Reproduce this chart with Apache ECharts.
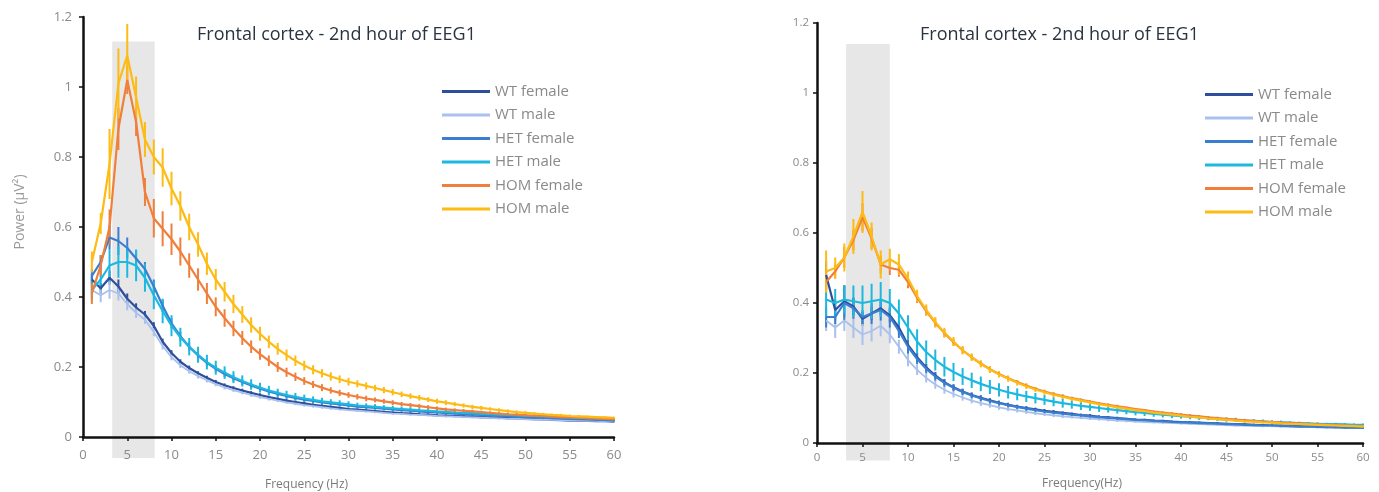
<!DOCTYPE html>
<html>
<head>
<meta charset="utf-8">
<script src="https://cdn.jsdelivr.net/npm/echarts@6/dist/echarts.min.js"></script>
<style>
  html, body { margin: 0; padding: 0; background: #fff; }
  #main { width: 1379px; height: 492px; }
</style>
</head>
<body>
<div id="main"></div>
<script>
// frequencies (Hz)
const hz = [
  1, 2, 3, 4, 5, 6, 7, 8, 9, 10, 11, 12, 13, 14, 15, 16, 17, 18, 19, 20,
  21, 22, 23, 24, 25, 26, 27, 28, 29, 30, 31, 32, 33, 34, 35, 36, 37, 38, 39, 40,
  41, 42, 43, 44, 45, 46, 47, 48, 49, 50, 51, 52, 53, 54, 55, 56, 57, 58, 59, 60
];
const groupNames = ['WT female', 'WT male', 'HET female', 'HET male', 'HOM female', 'HOM male'];
const xTicks = [0, 60, 5];
const yTicks = [0, 1.2, 0.2];

// shaded frequency band [from, to] and its vertical span
const bandLeft = [3.3, 8.1];
const bandLeftY = [-0.06, 1.13];
const bandRight = [3.2, 8.0];
const bandRightY = [-0.05, 1.14];

// ---- left panel: mean power ----
const L_wtF = [
  0.45, 0.425, 0.455, 0.43, 0.395, 0.37, 0.35, 0.318, 0.272, 0.24,
  0.215, 0.197, 0.182, 0.169, 0.157, 0.148, 0.14, 0.133, 0.126, 0.12,
  0.114, 0.109, 0.104, 0.1, 0.096, 0.092, 0.089, 0.086, 0.083, 0.08,
  0.078, 0.076, 0.074, 0.072, 0.07, 0.068, 0.067, 0.065, 0.064, 0.062,
  0.061, 0.06, 0.059, 0.058, 0.057, 0.056, 0.055, 0.054, 0.053, 0.052,
  0.051, 0.05, 0.049, 0.048, 0.047, 0.047, 0.046, 0.045, 0.045, 0.044
];
const L_wtM = [
  0.42, 0.405, 0.42, 0.41, 0.38, 0.355, 0.335, 0.3, 0.26, 0.228,
  0.205, 0.188, 0.174, 0.162, 0.151, 0.142, 0.134, 0.127, 0.12, 0.114,
  0.109, 0.104, 0.099, 0.095, 0.091, 0.088, 0.085, 0.082, 0.079, 0.077,
  0.075, 0.073, 0.071, 0.069, 0.067, 0.066, 0.064, 0.063, 0.062, 0.06,
  0.059, 0.058, 0.057, 0.056, 0.055, 0.054, 0.053, 0.052, 0.052, 0.051,
  0.05, 0.049, 0.049, 0.048, 0.047, 0.047, 0.046, 0.046, 0.045, 0.045
];
const L_hetF = [
  0.46, 0.5, 0.57, 0.56, 0.54, 0.51, 0.48, 0.43, 0.375, 0.325,
  0.288, 0.258, 0.233, 0.212, 0.195, 0.18, 0.168, 0.157, 0.147, 0.138,
  0.13, 0.123, 0.117, 0.112, 0.107, 0.103, 0.099, 0.096, 0.093, 0.09,
  0.087, 0.085, 0.083, 0.081, 0.079, 0.077, 0.075, 0.073, 0.071, 0.07,
  0.068, 0.067, 0.065, 0.064, 0.063, 0.061, 0.06, 0.059, 0.058, 0.057,
  0.056, 0.055, 0.054, 0.053, 0.052, 0.051, 0.05, 0.049, 0.048, 0.047
];
const L_hetM = [
  0.42, 0.45, 0.49, 0.5, 0.5, 0.49, 0.455, 0.405, 0.36, 0.318,
  0.285, 0.258, 0.235, 0.214, 0.198, 0.184, 0.171, 0.16, 0.15, 0.141,
  0.133, 0.126, 0.12, 0.115, 0.11, 0.106, 0.102, 0.099, 0.096, 0.093,
  0.09, 0.088, 0.086, 0.084, 0.082, 0.08, 0.078, 0.076, 0.075, 0.073,
  0.072, 0.07, 0.069, 0.068, 0.066, 0.065, 0.064, 0.063, 0.062, 0.061,
  0.06, 0.059, 0.058, 0.057, 0.056, 0.055, 0.054, 0.053, 0.052, 0.051
];
const L_homF = [
  0.41, 0.49, 0.6, 0.88, 1.02, 0.9, 0.7, 0.625, 0.595, 0.565,
  0.53, 0.49, 0.45, 0.41, 0.372, 0.34, 0.31, 0.283, 0.258, 0.237,
  0.218, 0.2, 0.185, 0.172, 0.16, 0.15, 0.141, 0.133, 0.126, 0.12,
  0.115, 0.11, 0.106, 0.102, 0.098, 0.094, 0.091, 0.088, 0.085, 0.082,
  0.079, 0.077, 0.075, 0.073, 0.071, 0.069, 0.067, 0.065, 0.064, 0.062,
  0.061, 0.06, 0.058, 0.057, 0.056, 0.055, 0.054, 0.053, 0.052, 0.051
];
const L_homM = [
  0.5, 0.61, 0.78, 1.01, 1.09, 0.97, 0.85, 0.8, 0.77, 0.71,
  0.66, 0.6, 0.55, 0.495, 0.45, 0.415, 0.38, 0.35, 0.32, 0.295,
  0.272, 0.252, 0.234, 0.218, 0.204, 0.192, 0.182, 0.173, 0.165, 0.158,
  0.152, 0.146, 0.14, 0.134, 0.128, 0.122, 0.117, 0.112, 0.107, 0.102,
  0.098, 0.094, 0.09, 0.086, 0.083, 0.08, 0.077, 0.074, 0.071, 0.069,
  0.067, 0.065, 0.063, 0.062, 0.06, 0.059, 0.058, 0.057, 0.056, 0.055
];

// ---- left panel: standard errors ----
const L_wtF_se = [
  0.015, 0.015, 0.02, 0.02, 0.015, 0.012, 0.01, 0.01, 0.009, 0.008,
  0.007, 0.007, 0.006, 0.006, 0.006, 0.005, 0.005, 0.005, 0.005, 0.005,
  0.004, 0.004, 0.004, 0.004, 0.004, 0.004, 0.004, 0.003, 0.003, 0.003,
  0.003, 0.003, 0.003, 0.003, 0.003, 0.003, 0.003, 0.003, 0.003, 0.003,
  0.003, 0.003, 0.003, 0.003, 0.003, 0.002, 0.002, 0.002, 0.002, 0.002,
  0.002, 0.002, 0.002, 0.002, 0.002, 0.002, 0.002, 0.002, 0.002, 0.002
];
const L_wtM_se = [
  0.02, 0.02, 0.025, 0.02, 0.018, 0.015, 0.012, 0.012, 0.01, 0.009,
  0.008, 0.007, 0.007, 0.006, 0.006, 0.006, 0.005, 0.005, 0.005, 0.005,
  0.005, 0.004, 0.004, 0.004, 0.004, 0.004, 0.004, 0.004, 0.003, 0.003,
  0.003, 0.003, 0.003, 0.003, 0.003, 0.003, 0.003, 0.003, 0.003, 0.003,
  0.003, 0.003, 0.003, 0.003, 0.003, 0.003, 0.003, 0.003, 0.003, 0.003,
  0.002, 0.002, 0.002, 0.002, 0.002, 0.002, 0.002, 0.002, 0.002, 0.002
];
const L_hetF_se = [
  0.02, 0.02, 0.035, 0.04, 0.03, 0.025, 0.02, 0.02, 0.018, 0.015,
  0.013, 0.012, 0.011, 0.01, 0.01, 0.009, 0.009, 0.008, 0.008, 0.007,
  0.007, 0.007, 0.006, 0.006, 0.006, 0.006, 0.005, 0.005, 0.005, 0.005,
  0.005, 0.005, 0.004, 0.004, 0.004, 0.004, 0.004, 0.004, 0.004, 0.004,
  0.003, 0.003, 0.003, 0.003, 0.003, 0.003, 0.003, 0.003, 0.003, 0.003,
  0.003, 0.003, 0.003, 0.003, 0.003, 0.003, 0.003, 0.003, 0.003, 0.003
];
const L_hetM_se = [
  0.03, 0.03, 0.045, 0.045, 0.045, 0.045, 0.04, 0.04, 0.035, 0.03,
  0.027, 0.025, 0.023, 0.021, 0.02, 0.018, 0.017, 0.016, 0.015, 0.014,
  0.013, 0.012, 0.012, 0.011, 0.011, 0.01, 0.01, 0.009, 0.009, 0.009,
  0.008, 0.008, 0.008, 0.007, 0.007, 0.007, 0.007, 0.006, 0.006, 0.006,
  0.006, 0.005, 0.005, 0.005, 0.005, 0.005, 0.004, 0.004, 0.004, 0.004,
  0.004, 0.004, 0.003, 0.003, 0.003, 0.003, 0.003, 0.003, 0.003, 0.003
];
const L_homF_se = [
  0.03, 0.03, 0.05, 0.06, 0.04, 0.04, 0.04, 0.055, 0.05, 0.045,
  0.04, 0.035, 0.032, 0.03, 0.027, 0.025, 0.022, 0.02, 0.018, 0.016,
  0.015, 0.014, 0.013, 0.012, 0.011, 0.01, 0.01, 0.009, 0.009, 0.008,
  0.008, 0.008, 0.007, 0.007, 0.007, 0.006, 0.006, 0.006, 0.006, 0.005,
  0.005, 0.005, 0.005, 0.005, 0.004, 0.004, 0.004, 0.004, 0.004, 0.004,
  0.003, 0.003, 0.003, 0.003, 0.003, 0.003, 0.003, 0.003, 0.003, 0.003
];
const L_homM_se = [
  0.03, 0.03, 0.1, 0.1, 0.09, 0.06, 0.05, 0.05, 0.055, 0.048,
  0.042, 0.038, 0.035, 0.032, 0.03, 0.028, 0.026, 0.024, 0.022, 0.02,
  0.018, 0.017, 0.016, 0.015, 0.014, 0.013, 0.012, 0.012, 0.011, 0.011,
  0.01, 0.01, 0.009, 0.009, 0.009, 0.008, 0.008, 0.008, 0.007, 0.007,
  0.007, 0.006, 0.006, 0.006, 0.006, 0.005, 0.005, 0.005, 0.005, 0.005,
  0.004, 0.004, 0.004, 0.004, 0.004, 0.004, 0.003, 0.003, 0.003, 0.003
];

// ---- right panel: mean power ----
const R_wtF = [
  0.48, 0.38, 0.405, 0.39, 0.355, 0.37, 0.385, 0.365, 0.33, 0.28,
  0.245, 0.216, 0.193, 0.174, 0.159, 0.147, 0.137, 0.129, 0.122, 0.115,
  0.109, 0.104, 0.1, 0.096, 0.092, 0.089, 0.086, 0.083, 0.08, 0.078,
  0.075, 0.073, 0.071, 0.069, 0.067, 0.066, 0.064, 0.063, 0.061, 0.06,
  0.059, 0.058, 0.057, 0.056, 0.055, 0.054, 0.053, 0.052, 0.051, 0.05,
  0.05, 0.049, 0.048, 0.047, 0.047, 0.046, 0.045, 0.045, 0.044, 0.044
];
const R_wtM = [
  0.35, 0.33, 0.35, 0.33, 0.31, 0.32, 0.335, 0.31, 0.275, 0.237,
  0.209, 0.186, 0.167, 0.152, 0.14, 0.13, 0.121, 0.114, 0.108, 0.102,
  0.097, 0.093, 0.089, 0.085, 0.082, 0.079, 0.076, 0.074, 0.072, 0.07,
  0.068, 0.066, 0.064, 0.063, 0.061, 0.06, 0.059, 0.058, 0.057, 0.056,
  0.055, 0.054, 0.053, 0.052, 0.051, 0.05, 0.05, 0.049, 0.048, 0.048,
  0.047, 0.047, 0.046, 0.046, 0.045, 0.045, 0.044, 0.044, 0.043, 0.043
];
const R_hetF = [
  0.36, 0.36, 0.4, 0.385, 0.36, 0.37, 0.38, 0.36, 0.32, 0.275,
  0.24, 0.212, 0.19, 0.172, 0.158, 0.146, 0.136, 0.128, 0.12, 0.114,
  0.108, 0.103, 0.098, 0.094, 0.09, 0.087, 0.084, 0.081, 0.079, 0.076,
  0.074, 0.072, 0.07, 0.068, 0.066, 0.065, 0.063, 0.062, 0.06, 0.059,
  0.058, 0.057, 0.056, 0.055, 0.054, 0.053, 0.052, 0.051, 0.05, 0.05,
  0.049, 0.048, 0.047, 0.047, 0.046, 0.045, 0.045, 0.044, 0.044, 0.043
];
const R_hetM = [
  0.41, 0.4, 0.41, 0.405, 0.4, 0.405, 0.41, 0.4, 0.37, 0.33,
  0.29, 0.26, 0.237, 0.218, 0.203, 0.19, 0.179, 0.169, 0.16, 0.152,
  0.145, 0.139, 0.133, 0.128, 0.123, 0.118, 0.114, 0.11, 0.106, 0.103,
  0.1, 0.097, 0.094, 0.091, 0.088, 0.086, 0.083, 0.081, 0.079, 0.077,
  0.075, 0.073, 0.071, 0.069, 0.067, 0.066, 0.064, 0.063, 0.062, 0.06,
  0.059, 0.058, 0.057, 0.056, 0.055, 0.054, 0.054, 0.053, 0.052, 0.052
];
const R_homF = [
  0.46, 0.49, 0.53, 0.58, 0.645, 0.585, 0.51, 0.5, 0.495, 0.46,
  0.415, 0.377, 0.343, 0.314, 0.288, 0.265, 0.245, 0.227, 0.211, 0.197,
  0.185, 0.174, 0.164, 0.155, 0.147, 0.14, 0.134, 0.128, 0.123, 0.118,
  0.113, 0.109, 0.105, 0.101, 0.097, 0.094, 0.09, 0.087, 0.084, 0.081,
  0.078, 0.076, 0.073, 0.071, 0.069, 0.067, 0.065, 0.063, 0.061, 0.06,
  0.058, 0.057, 0.056, 0.054, 0.053, 0.052, 0.051, 0.05, 0.049, 0.048
];
const R_homM = [
  0.49, 0.5, 0.53, 0.59, 0.66, 0.59, 0.51, 0.525, 0.51, 0.47,
  0.42, 0.38, 0.345, 0.315, 0.29, 0.265, 0.245, 0.226, 0.21, 0.196,
  0.184, 0.172, 0.162, 0.153, 0.145, 0.138, 0.132, 0.126, 0.121, 0.116,
  0.111, 0.107, 0.102, 0.098, 0.094, 0.091, 0.087, 0.084, 0.081, 0.078,
  0.075, 0.073, 0.07, 0.068, 0.066, 0.064, 0.062, 0.061, 0.059, 0.058,
  0.056, 0.055, 0.054, 0.053, 0.052, 0.051, 0.05, 0.049, 0.048, 0.047
];

// ---- right panel: standard errors ----
const R_wtF_se = [
  0.04, 0.03, 0.045, 0.025, 0.02, 0.02, 0.02, 0.02, 0.018, 0.015,
  0.012, 0.011, 0.01, 0.009, 0.008, 0.008, 0.007, 0.007, 0.006, 0.006,
  0.006, 0.005, 0.005, 0.005, 0.005, 0.005, 0.004, 0.004, 0.004, 0.004,
  0.004, 0.004, 0.004, 0.003, 0.003, 0.003, 0.003, 0.003, 0.003, 0.003,
  0.003, 0.003, 0.003, 0.003, 0.003, 0.003, 0.003, 0.003, 0.003, 0.003,
  0.002, 0.002, 0.002, 0.002, 0.002, 0.002, 0.002, 0.002, 0.002, 0.002
];
const R_wtM_se = [
  0.03, 0.03, 0.03, 0.03, 0.03, 0.03, 0.03, 0.025, 0.02, 0.018,
  0.015, 0.013, 0.012, 0.011, 0.01, 0.009, 0.008, 0.008, 0.007, 0.007,
  0.006, 0.006, 0.006, 0.005, 0.005, 0.005, 0.005, 0.004, 0.004, 0.004,
  0.004, 0.004, 0.004, 0.004, 0.003, 0.003, 0.003, 0.003, 0.003, 0.003,
  0.003, 0.003, 0.003, 0.003, 0.003, 0.003, 0.003, 0.003, 0.003, 0.003,
  0.003, 0.003, 0.003, 0.003, 0.003, 0.003, 0.003, 0.003, 0.003, 0.003
];
const R_hetF_se = [
  0.03, 0.02, 0.05, 0.03, 0.02, 0.03, 0.03, 0.03, 0.02, 0.02,
  0.015, 0.013, 0.012, 0.011, 0.01, 0.009, 0.008, 0.008, 0.007, 0.007,
  0.006, 0.006, 0.006, 0.005, 0.005, 0.005, 0.005, 0.004, 0.004, 0.004,
  0.004, 0.004, 0.004, 0.003, 0.003, 0.003, 0.003, 0.003, 0.003, 0.003,
  0.003, 0.003, 0.003, 0.003, 0.003, 0.003, 0.003, 0.003, 0.003, 0.003,
  0.003, 0.003, 0.003, 0.003, 0.003, 0.003, 0.003, 0.003, 0.003, 0.003
];
const R_hetM_se = [
  0.05, 0.04, 0.04, 0.045, 0.05, 0.05, 0.05, 0.04, 0.04, 0.035,
  0.035, 0.033, 0.03, 0.028, 0.026, 0.024, 0.022, 0.021, 0.02, 0.019,
  0.018, 0.017, 0.016, 0.015, 0.014, 0.013, 0.013, 0.012, 0.012, 0.011,
  0.011, 0.01, 0.01, 0.009, 0.009, 0.009, 0.008, 0.008, 0.008, 0.007,
  0.007, 0.007, 0.006, 0.006, 0.006, 0.006, 0.005, 0.005, 0.005, 0.005,
  0.005, 0.004, 0.004, 0.004, 0.004, 0.004, 0.004, 0.004, 0.004, 0.004
];
const R_homF_se = [
  0.03, 0.02, 0.03, 0.03, 0.04, 0.03, 0.025, 0.02, 0.02, 0.018,
  0.015, 0.013, 0.012, 0.011, 0.01, 0.009, 0.008, 0.008, 0.007, 0.007,
  0.006, 0.006, 0.006, 0.005, 0.005, 0.005, 0.005, 0.004, 0.004, 0.004,
  0.004, 0.004, 0.004, 0.003, 0.003, 0.003, 0.003, 0.003, 0.003, 0.003,
  0.003, 0.003, 0.003, 0.003, 0.003, 0.003, 0.003, 0.003, 0.003, 0.003,
  0.003, 0.003, 0.003, 0.003, 0.003, 0.003, 0.003, 0.003, 0.003, 0.003
];
const R_homM_se = [
  0.06, 0.03, 0.04, 0.05, 0.06, 0.04, 0.04, 0.03, 0.03, 0.02,
  0.018, 0.016, 0.015, 0.014, 0.013, 0.012, 0.011, 0.01, 0.01, 0.009,
  0.009, 0.008, 0.008, 0.007, 0.007, 0.007, 0.006, 0.006, 0.006, 0.006,
  0.005, 0.005, 0.005, 0.005, 0.005, 0.004, 0.004, 0.004, 0.004, 0.004,
  0.004, 0.004, 0.003, 0.003, 0.003, 0.003, 0.003, 0.003, 0.003, 0.003,
  0.003, 0.003, 0.003, 0.003, 0.003, 0.003, 0.003, 0.003, 0.003, 0.003
];

const colors = ['#2e4f9c', '#a9c1ec', '#3a7fcf', '#1db8e0', '#f07f3c', '#fdbb14'];
const font = 'Open Sans';

const chart = echarts.init(document.getElementById('main'));

function errorBar(params, api) {
  const x = api.value(0);
  const lo = api.coord([x, api.value(1)]);
  const hi = api.coord([x, api.value(2)]);
  return {
    type: 'line',
    shape: { x1: lo[0], y1: lo[1], x2: hi[0], y2: hi[1] },
    style: { stroke: api.visual('color'), lineWidth: 2 }
  };
}

function bandRect(params, api) {
  const p1 = api.coord([api.value(0), api.value(3)]);
  const p2 = api.coord([api.value(1), api.value(2)]);
  return {
    type: 'rect',
    shape: { x: p1[0], y: p1[1], width: p2[0] - p1[0], height: p2[1] - p1[1] },
    style: { fill: '#e7e7e7' }
  };
}

const series = [];
function addPanel(idx, band, bandY, means, errs) {
  series.push({
    type: 'custom', xAxisIndex: idx, yAxisIndex: idx, silent: true, z: 1,
    renderItem: bandRect,
    encode: { x: [0, 1], y: [2, 3] },
    data: [[band[0], band[1], bandY[0], bandY[1]]]
  });
  groupNames.forEach((name, g) => {
    const m = means[g], e = errs[g];
    series.push({
      name: name, type: 'custom', xAxisIndex: idx, yAxisIndex: idx, silent: true, z: 2,
      itemStyle: { color: colors[g] },
      renderItem: errorBar,
      encode: { x: 0, y: [1, 2] },
      data: hz.map((f, i) => [f, m[i] - e[i], m[i] + e[i]])
    });
    series.push({
      name: name, type: 'line', xAxisIndex: idx, yAxisIndex: idx, z: 2,
      symbol: 'none', silent: true,
      lineStyle: { color: colors[g], width: g === 1 ? 1.8 : 2.2 },
      itemStyle: { color: colors[g] },
      data: hz.map((f, i) => [f, m[i]])
    });
  });
}
addPanel(0, bandLeft, bandLeftY,
  [L_wtF, L_wtM, L_hetF, L_hetM, L_homF, L_homM],
  [L_wtF_se, L_wtM_se, L_hetF_se, L_hetM_se, L_homF_se, L_homM_se]);
addPanel(1, bandRight, bandRightY,
  [R_wtF, R_wtM, R_hetF, R_hetM, R_homF, R_homM],
  [R_wtF_se, R_wtM_se, R_hetF_se, R_hetM_se, R_homF_se, R_homM_se]);

function xAxis(idx, size, margin) {
  return {
    type: 'value', gridIndex: idx, min: xTicks[0], max: xTicks[1], interval: xTicks[2], z: 5,
    axisLine: { show: true, onZero: false, lineStyle: { color: '#111', width: 2.5 } },
    axisTick: { show: true, length: 4, lineStyle: { color: '#111', width: 1.5 } },
    axisLabel: { color: '#8a8a8a', fontSize: size, margin: margin, fontFamily: font },
    splitLine: { show: false }
  };
}
function yAxis(idx, size, margin) {
  return {
    type: 'value', gridIndex: idx, min: yTicks[0], max: yTicks[1], interval: yTicks[2], z: 5,
    axisLine: { show: true, lineStyle: { color: '#111', width: 2.5 } },
    axisTick: { show: true, length: 4, lineStyle: { color: '#111', width: 1.5 } },
    axisLabel: { color: '#8a8a8a', fontSize: size, margin: margin, fontFamily: font },
    splitLine: { show: false }
  };
}

const leftY = yAxis(0, 13, 11);
leftY.name = 'Power (µV²)';
leftY.nameLocation = 'middle';
leftY.nameGap = 56;
leftY.nameTextStyle = { color: '#9a9a9a', fontSize: 14, fontFamily: font, padding: [0, 0, 0, 30] };

function legend(left, top) {
  return {
    left: left, top: top, orient: 'vertical', padding: 0,
    itemWidth: 48, itemHeight: 3, itemGap: 8.5, icon: 'rect',
    selectedMode: false,
    data: groupNames,
    textStyle: { color: '#8a8a8a', fontSize: 15, fontFamily: font }
  };
}

const titleStyle = { fontSize: 18, fontWeight: 'normal', color: '#2a3441', fontFamily: font };
const nameStyle = { fontSize: 12, fontWeight: 'normal', color: '#7a7a7a', fontFamily: font };

chart.setOption({
  backgroundColor: '#fff',
  animation: false,
  title: [
    { text: 'Frontal cortex - 2nd hour of EEG1', left: 197, top: 26, padding: 0, textStyle: titleStyle },
    { text: 'Frontal cortex - 2nd hour of EEG1', left: 920, top: 26, padding: 0, textStyle: titleStyle },
    { text: 'Frequency (Hz)', left: 265, top: 479, padding: 0, textStyle: nameStyle },
    { text: 'Frequency(Hz)', left: 1042, top: 478, padding: 0, textStyle: nameStyle }
  ],
  legend: [legend(442, 84), legend(1205, 87)],
  grid: [
    { left: 83, top: 17, width: 531, height: 420 },
    { left: 817, top: 23, width: 546, height: 420 }
  ],
  xAxis: [xAxis(0, 13, 12), xAxis(1, 11.5, 9)],
  yAxis: [leftY, yAxis(1, 11.5, 8)],
  series: series
});
</script>
</body>
</html>
